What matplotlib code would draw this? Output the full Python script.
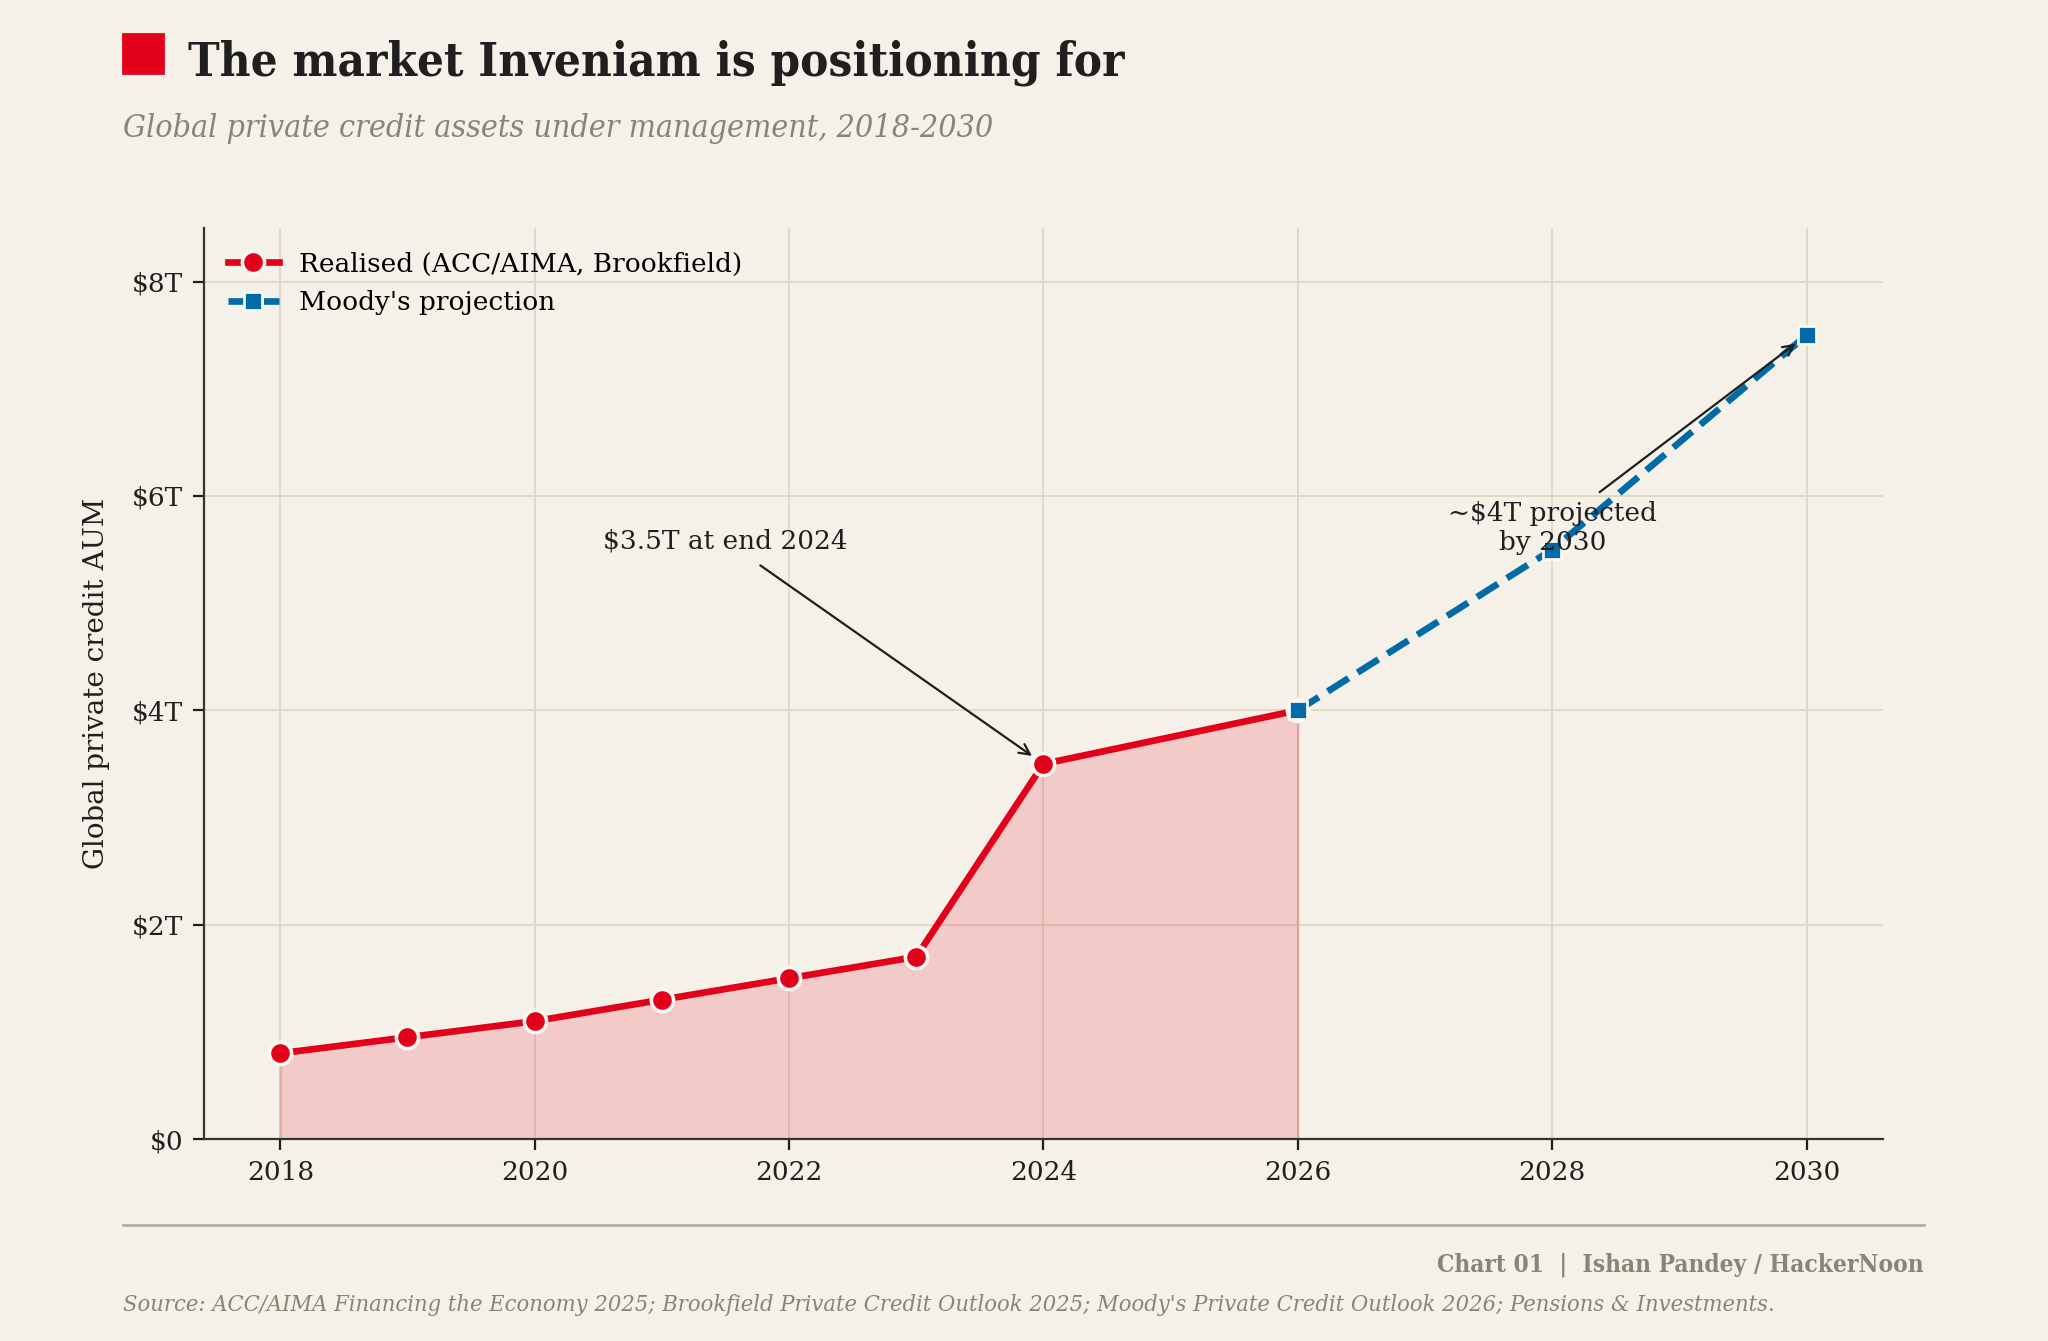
import matplotlib.pyplot as plt
from matplotlib.patches import Rectangle
from matplotlib.ticker import FuncFormatter

# data
real_years = [2018, 2019, 2020, 2021, 2022, 2023, 2024, 2026]
real_aum = [0.8, 0.95, 1.1, 1.3, 1.5, 1.7, 3.5, 4.0]
proj_years = [2026, 2028, 2030]
proj_aum = [4.0, 5.5, 7.5]
x_ticks = [2018, 2020, 2022, 2024, 2026, 2028, 2030]
y_ticks = [0, 2, 4, 6, 8]

bg = '#f5f1e9'
red = '#e3001b'
blue = '#006ba6'
ink = '#1f1f1f'
grey = '#8a8475'
edge = '#faf7f0'

plt.rcParams['font.family'] = ['DejaVu Serif']

fig = plt.figure(figsize=(10.24, 6.705), dpi=200, facecolor=bg)
ax = fig.add_axes([0.0996, 0.1506, 0.8198, 0.6794])
ax.set_facecolor(bg)

# area + lines
ax.fill_between(real_years, real_aum, 0, color=red, alpha=0.16, linewidth=1, zorder=1)
ax.plot(real_years, real_aum, color=red, lw=2.4, marker='o', markersize=8,
        markeredgecolor=edge, markeredgewidth=1.3, label='Realised (ACC/AIMA, Brookfield)', zorder=3)
ax.plot(proj_years, proj_aum, color=blue, lw=2.4, ls='--', marker='s', markersize=6.5,
        markeredgecolor=edge, markeredgewidth=1.0, label="Moody's projection", zorder=3)

ax.set_xlim(2017.4, 2030.6)
ax.set_ylim(0, 8.5)
ax.set_xticks(x_ticks)
ax.set_yticks(y_ticks)
ax.yaxis.set_major_formatter(FuncFormatter(lambda v, p: '$0' if v == 0 else '$%dT' % v))
ax.tick_params(labelsize=9.5, colors=ink, length=4, width=0.8)
ax.grid(True, color='#e0d9c8', lw=0.7, zorder=0)
ax.set_axisbelow(True)
for s in ['top', 'right']:
    ax.spines[s].set_visible(False)
for s in ['left', 'bottom']:
    ax.spines[s].set_color('#333333')
    ax.spines[s].set_linewidth(0.8)
ax.set_ylabel('Global private credit AUM', fontsize=10, color=ink, labelpad=8)

ax.legend(loc='upper left', frameon=False, fontsize=9.5, handlelength=1.95, handletextpad=0.75)

# annotations
ax.annotate('$3.5T at end 2024', xy=(2024, 3.5), xytext=(2021.5, 5.58),
            ha='center', va='center', fontsize=9.5, color=ink,
            arrowprops=dict(arrowstyle='->', color=ink, lw=0.8, shrinkA=4, shrinkB=5))
ax.annotate('~$4T projected\nby 2030', xy=(2030, 7.5), xytext=(2028, 5.7),
            ha='center', va='center', fontsize=9.5, color=ink,
            arrowprops=dict(arrowstyle='->', color=ink, lw=0.8, shrinkA=2, shrinkB=5))

# header
fig.patches.append(Rectangle((0.060, 0.9456), 0.0195, 0.029, transform=fig.transFigure,
                             color=red, figure=fig))
fig.text(0.0918, 0.9535, 'The market Inveniam is positioning for', fontsize=17,
         fontweight='bold', fontstretch='condensed', color=ink, va='center', ha='left')
fig.text(0.060, 0.9045, 'Global private credit assets under management, 2018-2030', fontsize=11.5,
         style='italic', fontstretch='condensed', color=grey, va='center', ha='left')

# footer
fig.add_artist(plt.Line2D([0.060, 0.9395], [0.0865, 0.0865], transform=fig.transFigure,
                          color='#b5b0a0', lw=1.0))
fig.text(0.9395, 0.0572, 'Chart 01  |  Ishan Pandey / HackerNoon', fontsize=8.8, fontweight='bold',
         fontstretch='condensed', color=grey, ha='right', va='center')
fig.text(0.060, 0.0272, "Source: ACC/AIMA Financing the Economy 2025; Brookfield Private Credit Outlook 2025; "
         "Moody's Private Credit Outlook 2026; Pensions & Investments.", fontsize=8.45,
         style='italic', fontstretch='condensed', color=grey, ha='left', va='center')

fig.savefig('out.png', dpi=200, facecolor=bg)
